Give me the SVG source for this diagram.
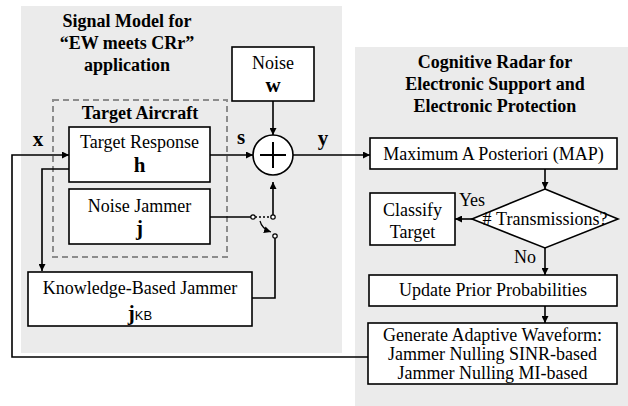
<svg xmlns="http://www.w3.org/2000/svg" width="628" height="406" viewBox="0 0 628 406">
<defs>
<marker id="ah" viewBox="0 0 10 10" refX="10" refY="5" markerWidth="7" markerHeight="7" markerUnits="userSpaceOnUse" orient="auto"><path d="M0,0 L10,5 L0,10 z" fill="#000"/></marker>
<style>
.panel{fill:#ebebeb;stroke:none}
.box{fill:#fff;stroke:#000;stroke-width:1.6}
.t{font-family:"Liberation Serif","Times New Roman",serif;font-size:18px;fill:#000;text-anchor:middle}
.b{font-weight:bold}
.v{font-family:"Liberation Serif","Times New Roman",serif;font-size:21px;font-weight:bold;fill:#000;text-anchor:middle}
.ln{fill:none;stroke:#000;stroke-width:1.6}
</style>
</defs>
<rect width="628" height="406" fill="#fff"/>
<rect class="panel" x="21" y="6" width="321" height="347"/>
<rect class="panel" x="355" y="47" width="273" height="359"/>
<g id="title-left">
<text class="t b" x="127" y="27">Signal Model for</text>
<text class="t b" x="127" y="49">“EW meets CRr”</text>
<text class="t b" x="127" y="71">application</text>
</g>
<g id="title-right">
<text class="t b" x="495" y="68">Cognitive Radar for</text>
<text class="t b" x="495" y="90">Electronic Support and</text>
<text class="t b" x="495" y="112">Electronic Protection</text>
</g>
<g id="target-aircraft">
<rect x="53" y="100" width="174" height="157" fill="none" stroke="#8c8c8c" stroke-width="2" stroke-dasharray="6,4"/>
<text class="t b" x="140" y="119">Target Aircraft</text>
</g>
<g id="noise">
<rect class="box" x="232" y="47" width="82" height="54"/>
<text class="t" x="273" y="69">Noise</text>
<text class="v" x="273" y="92">w</text>
</g>
<g id="target-response">
<rect class="box" x="69" y="127" width="141" height="55"/>
<text class="t" x="139.5" y="148">Target Response</text>
<text class="v" x="139.5" y="172">h</text>
</g>
<g id="noise-jammer">
<rect class="box" x="69" y="189" width="141" height="55"/>
<text class="t" x="139.5" y="212">Noise Jammer</text>
<text class="v" x="139.5" y="235">j</text>
</g>
<g id="kb-jammer">
<rect class="box" x="28" y="272" width="224" height="54"/>
<text class="t" x="140" y="294">Knowledge-Based Jammer</text>
<text class="v" x="140" y="320">j<tspan font-weight="normal" font-size="13" font-family="'Liberation Sans',sans-serif">KB</tspan></text>
</g>
<g id="sum">
<circle cx="273" cy="155" r="20" fill="#fff" stroke="#000" stroke-width="1.6"/>
<path d="M260,155 H286 M273,142 V168" stroke="#000" stroke-width="2"/>
</g>
<g id="map">
<rect class="box" x="370" y="138" width="247" height="31"/>
<text class="t" x="493.5" y="160">Maximum A Posteriori (MAP)</text>
</g>
<g id="decision">
<path d="M545,189 L618,219 L545,248 L472,219 Z" fill="#fff" stroke="#000" stroke-width="1.6"/>
<text class="t" x="545" y="225" font-size="17">#&#160;Transmissions?</text>
</g>
<g id="classify">
<rect class="box" x="370" y="193" width="85" height="52"/>
<text class="t" x="412.5" y="216">Classify</text>
<text class="t" x="412.5" y="238">Target</text>
</g>
<g id="update">
<rect class="box" x="369" y="275" width="248" height="31"/>
<text class="t" x="493" y="296">Update Prior Probabilities</text>
</g>
<g id="generate">
<rect class="box" x="368" y="323" width="249" height="61"/>
<text class="t" x="492.5" y="341">Generate Adaptive Waveform:</text>
<text class="t" x="492.5" y="360">Jammer Nulling SINR-based</text>
<text class="t" x="492.5" y="379">Jammer Nulling MI-based</text>
</g>
<g id="connectors">
<path class="ln" d="M368,357 H12 V155 H69" marker-end="url(#ah)"/>
<path class="ln" d="M69,169 H42 V271" marker-end="url(#ah)"/>
<path class="ln" d="M210,155 H253" marker-end="url(#ah)"/>
<path class="ln" d="M273,101 V135" marker-end="url(#ah)"/>
<path class="ln" d="M293,155 H370" marker-end="url(#ah)"/>
<path class="ln" d="M210,217 H251"/>
<path d="M255,217 H271" stroke="#000" stroke-width="1.6" stroke-dasharray="2,2"/>
<path class="ln" d="M273,215 V182" marker-end="url(#ah)"/>
<path class="ln" d="M252,298 H275 V238"/>
<circle cx="253" cy="217" r="2.2" fill="#fff" stroke="#000" stroke-width="1.2"/>
<circle cx="273" cy="217" r="2.2" fill="#fff" stroke="#000" stroke-width="1.2"/>
<circle cx="275" cy="236" r="2.2" fill="#fff" stroke="#000" stroke-width="1.2"/>
<path d="M260,221 Q262,229 271,232" fill="none" stroke="#000" stroke-width="1.2" marker-end="url(#ah)"/>
<path class="ln" d="M545,169 V189" marker-end="url(#ah)"/>
<path class="ln" d="M472,219 H455" marker-end="url(#ah)"/>
<path class="ln" d="M545,248 V275" marker-end="url(#ah)"/>
<path class="ln" d="M545,306 V323" marker-end="url(#ah)"/>
<text class="v" x="38" y="146">x</text>
<text class="v" x="241" y="144">s</text>
<text class="v" x="323" y="145">y</text>
<text class="t" x="472" y="206" font-size="17">Yes</text>
<text class="t" x="525" y="263" font-size="17">No</text>
</g>
</svg>
